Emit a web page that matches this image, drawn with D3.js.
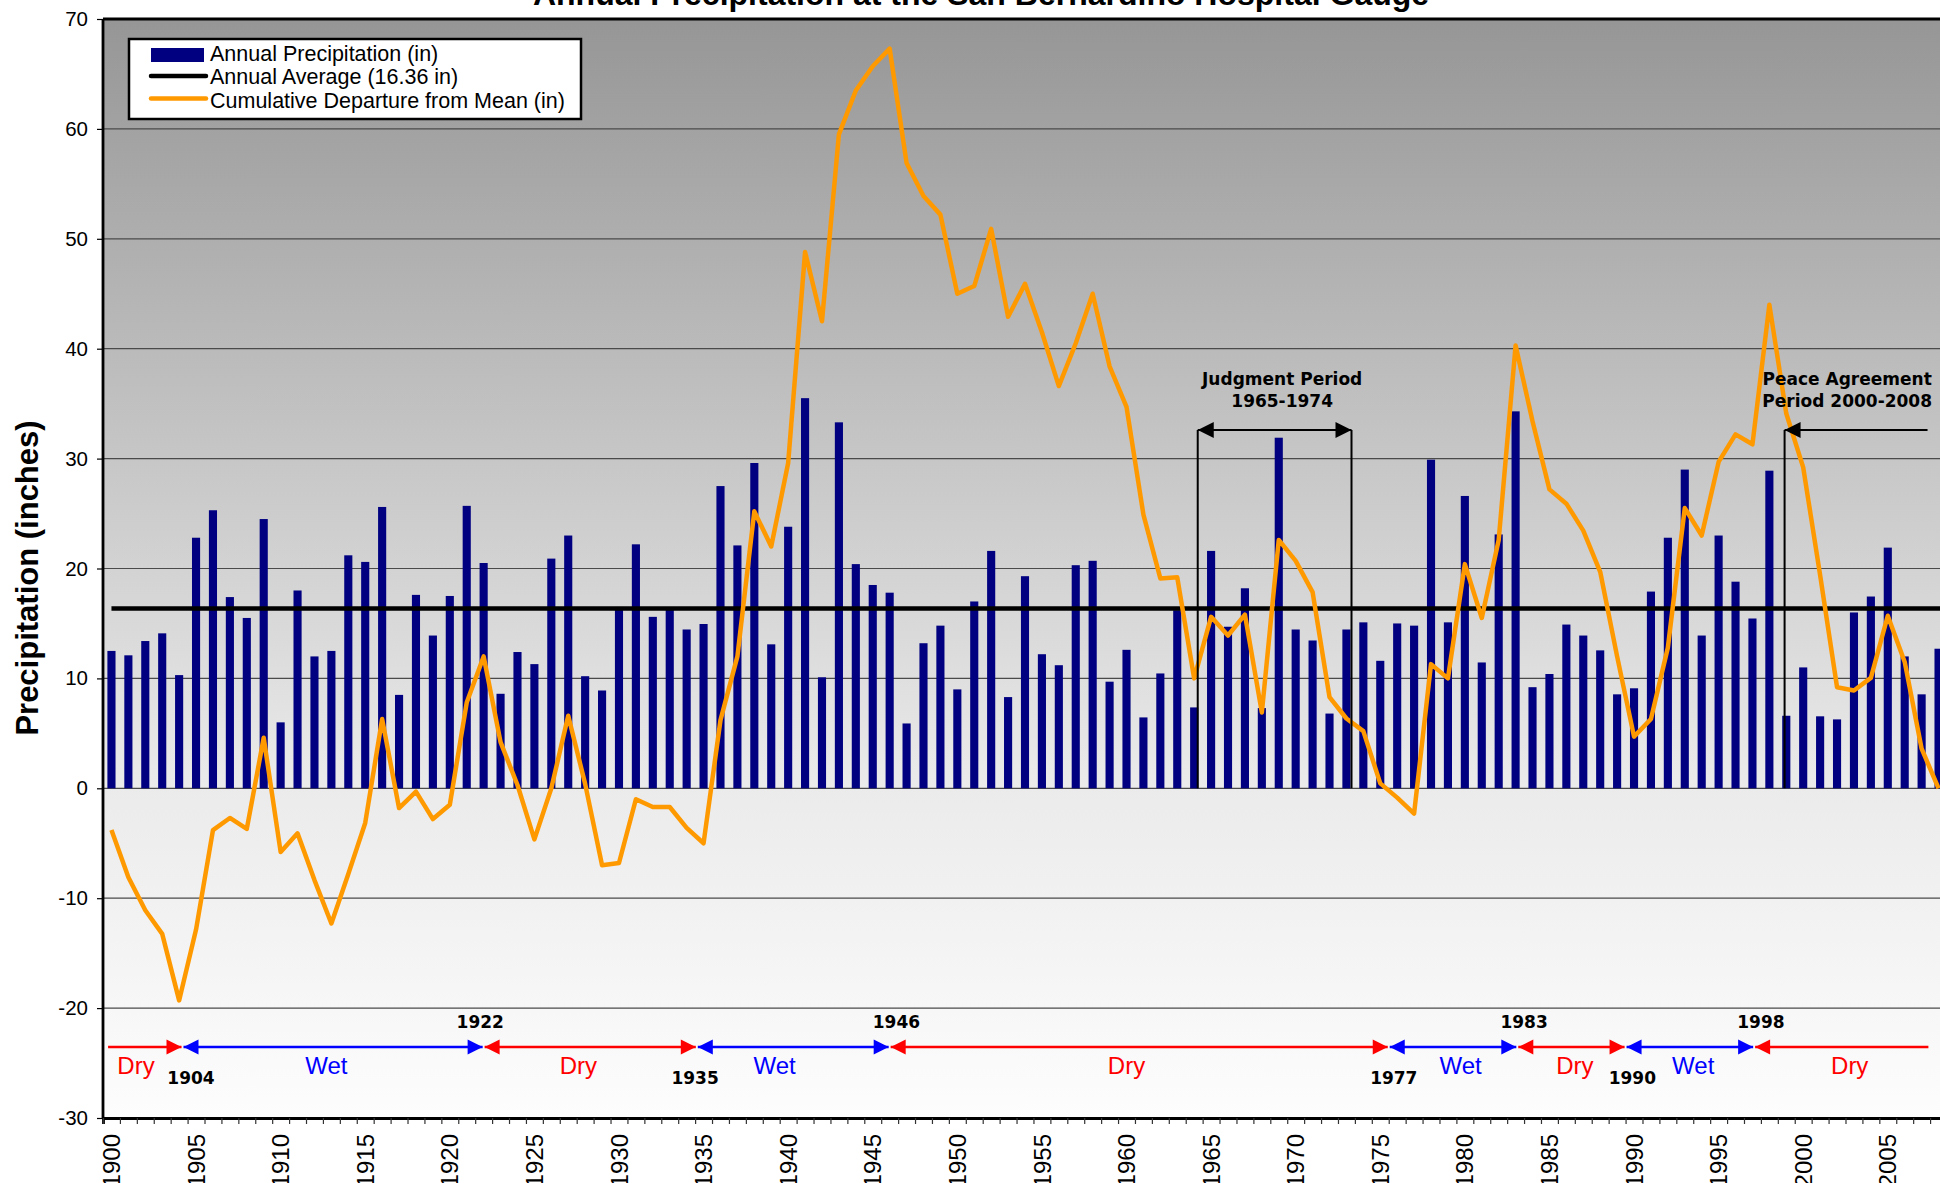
<!DOCTYPE html>
<html>
<head>
<meta charset="utf-8">
<script src="https://cdn.jsdelivr.net/npm/d3@7"></script>
<style>
  body { margin: 0; background: #fff; }
  svg { display: block; font-family: "Liberation Sans", Arial, sans-serif; }
</style>
</head>
<body>
<div id="chart"></div>
<script>
// ---- data ----
var years = d3.range(1900, 2009);

// annual precipitation (in), 1900-2008
var precip = [
  12.5, 12.1, 13.4, 14.1, 10.3, 22.8, 25.3, 17.4, 15.5, 24.5,
  6.0, 18.0, 12.0, 12.5, 21.2, 20.6, 25.6, 8.5, 17.6, 13.9,
  17.5, 25.7, 20.5, 8.6, 12.4, 11.3, 20.9, 23.0, 10.2, 8.9,
  16.5, 22.2, 15.6, 16.4, 14.45, 14.95, 27.5, 22.1, 29.6, 13.1,
  23.8, 35.5, 10.1, 33.3, 20.4, 18.5, 17.8, 5.9, 13.2, 14.8,
  9.0, 17.0, 21.6, 8.3, 19.3, 12.2, 11.2, 20.3, 20.7, 9.7,
  12.6, 6.45, 10.45, 16.2, 7.36, 21.6, 14.7, 18.2, 7.3, 31.9,
  14.45, 13.45, 6.8, 14.45, 15.1, 11.6, 15.0, 14.8, 29.9, 15.1,
  26.6, 11.45, 23.1, 34.3, 9.2, 10.4, 14.9, 13.9, 12.55, 8.55,
  9.1, 17.9, 22.8, 29.0, 13.9, 23.0, 18.8, 15.45, 28.9, 6.6,
  11.0, 6.55, 6.27, 16.0, 17.45, 21.9, 12.0, 8.55, 12.7
];

// cumulative departure from mean (in), 1900-2008
var cumDeparture = [
  -3.8, -8.1, -11.1, -13.25, -19.3, -12.85, -3.8, -2.7, -3.7, 4.6,
  -5.8, -4.1, -8.35, -12.3, -7.8, -3.15, 6.3, -1.8, -0.3, -2.8,
  -1.5, 7.8, 12.0, 4.2, 0.3, -4.65, 0.0, 6.6, 0.4, -7.0,
  -6.8, -1.0, -1.7, -1.7, -3.6, -5.0, 6.2, 12.0, 25.2, 22.0,
  29.6, 48.8, 42.5, 59.5, 63.5, 65.7, 67.3, 56.9, 53.9, 52.2,
  45.0, 45.7, 50.9, 42.9, 45.9, 41.5, 36.6, 40.5, 45.0, 38.4,
  34.7, 24.9, 19.1, 19.2, 10.0, 15.6, 13.9, 15.8, 6.9, 22.6,
  20.7, 17.85, 8.3, 6.35, 5.2, 0.45, -0.85, -2.3, 11.3, 10.0,
  20.4, 15.5, 22.6, 40.3, 33.4, 27.2, 25.9, 23.45, 19.7, 12.0,
  4.7, 6.3, 12.8, 25.5, 23.0, 29.7, 32.2, 31.3, 44.0, 34.1,
  29.2, 19.4, 9.2, 8.9, 10.05, 15.7, 11.5, 3.6, 0.0
];

var annualAverage = 16.36;

var yTicks = [70, 60, 50, 40, 30, 20, 10, 0, -10, -20, -30];
var xLabelYears = d3.range(1900, 2009, 5);

// wet / dry periods along the bottom (break points in years)
var periodBreaks = [1899.8, 1904.2, 1922.0, 1934.6, 1946.0, 1975.5, 1983.1, 1989.5, 1997.1, 2007.4];
var periodNames = ["Dry", "Wet", "Dry", "Wet", "Dry", "Wet", "Dry", "Wet", "Dry"];
var periodLabelAt = [1901.45, 1912.7, 1927.6, 1939.2, 1960.0, 1979.75, 1986.5, 1993.5, 2002.75];
var breakNames = ["1904", "1922", "1935", "1946", "1977", "1983", "1990", "1998"];
var breakLabelAt = [1904.7, 1921.8, 1934.5, 1946.4, 1975.8, 1983.5, 1989.9, 1997.5];

// ---- layout ----
var svgWidth = 1940;
var svgHeight = 1183;
var plot = { left: 103, top: 19, right: 1947, bottom: 1118 };
var lowLabel = [true, false, true, false, true, false, true, false];

var svg = d3.select("#chart")
  .append("svg")
  .attr("width", svgWidth)
  .attr("height", svgHeight);

// scales
var x = d3.scaleBand()
  .domain(years)
  .range([plot.left, plot.right])
  .paddingInner(0.52)
  .paddingOuter(0.26);

var y = d3.scaleLinear()
  .domain([-30, 70])
  .range([plot.bottom, plot.top]);

var xc = function(yr) { return x(yr) + x.bandwidth() / 2; };

// fractional year -> pixel, for the hand placed annotations
var yearPos = d3.scaleLinear()
  .domain([1900, 2008])
  .range([xc(1900), xc(2008)]);

// category edges, for the tick marks between years
var edge = d3.scaleLinear()
  .domain([1900, 2009])
  .range([plot.left, plot.right]);

// background gradient
var defs = svg.append("defs");
var grad = defs.append("linearGradient")
  .attr("id", "bg")
  .attr("x1", 0).attr("y1", 0).attr("x2", 0).attr("y2", 1);
grad.append("stop").attr("offset", "0%").attr("stop-color", "#969696");
grad.append("stop").attr("offset", "70%").attr("stop-color", "#ebebeb");
grad.append("stop").attr("offset", "100%").attr("stop-color", "#fdfdfd");

svg.append("rect")
  .attr("x", plot.left)
  .attr("y", plot.top)
  .attr("width", plot.right - plot.left)
  .attr("height", plot.bottom - plot.top)
  .attr("fill", "url(#bg)");

// gridlines
svg.append("g")
  .selectAll("line")
  .data(yTicks.slice(1, -1))
  .enter()
  .append("line")
  .attr("x1", plot.left)
  .attr("x2", plot.right)
  .attr("y1", d => y(d))
  .attr("y2", d => y(d))
  .attr("stroke", "#4a4a4a")
  .attr("stroke-width", 1.2);

// bars
svg.append("g")
  .selectAll("rect")
  .data(years)
  .enter()
  .append("rect")
  .attr("x", d => x(d))
  .attr("width", x.bandwidth())
  .attr("y", (d, i) => y(Math.max(0, precip[i])))
  .attr("height", (d, i) => Math.abs(y(precip[i]) - y(0)))
  .attr("fill", "#000080");

// annual average line, runs on to the right edge of the plot
svg.append("line")
  .attr("x1", xc(years[0]))
  .attr("x2", plot.right)
  .attr("y1", y(annualAverage))
  .attr("y2", y(annualAverage))
  .attr("stroke", "#000")
  .attr("stroke-width", 4.5);

// cumulative departure line
var cumLine = d3.line()
  .x(d => xc(d))
  .y((d, i) => y(cumDeparture[i]));

svg.append("path")
  .datum(years)
  .attr("d", cumLine)
  .attr("fill", "none")
  .attr("stroke", "#ff9900")
  .attr("stroke-width", 4.5)
  .attr("stroke-linejoin", "round");

// frame
var frame = svg.append("g").attr("stroke", "#000").attr("stroke-width", 2.8);
frame.append("line").attr("x1", plot.left).attr("x2", plot.right).attr("y1", plot.top).attr("y2", plot.top);
frame.append("line").attr("x1", plot.left).attr("x2", plot.left).attr("y1", plot.top).attr("y2", plot.bottom);

// y axis
var yAxis = d3.axisLeft(y)
  .tickValues(yTicks)
  .tickSize(6)
  .tickPadding(9)
  .tickFormat(d => String(d));

var yAxisG = svg.append("g")
  .attr("transform", `translate(${plot.left}, 0)`)
  .call(yAxis);
yAxisG.select(".domain").remove();
yAxisG.selectAll(".tick line").attr("stroke", "#000").attr("stroke-width", 1.2);
yAxisG.selectAll("text")
  .attr("font-size", "20.5px")
  .attr("font-family", "Liberation Sans, Arial, sans-serif")
  .attr("fill", "#000");

// x axis: tick marks between the years
var edgeAxis = d3.axisBottom(edge)
  .tickValues(d3.range(1900, 2010))
  .tickSize(6)
  .tickFormat("");

var edgeG = svg.append("g")
  .attr("transform", `translate(0, ${plot.bottom})`)
  .call(edgeAxis);
edgeG.select(".domain").attr("stroke", "#000").attr("stroke-width", 2.8);
edgeG.selectAll(".tick line").attr("stroke", "#333").attr("stroke-width", 1.2);

// x axis: year labels every 5 years
var xAxis = d3.axisBottom(x)
  .tickValues(xLabelYears)
  .tickSize(0);

var xAxisG = svg.append("g")
  .attr("transform", `translate(0, ${plot.bottom})`)
  .call(xAxis);
xAxisG.select(".domain").remove();
xAxisG.selectAll("text")
  .attr("transform", "rotate(-90)")
  .attr("x", -16)
  .attr("y", 0)
  .attr("dy", "0.36em")
  .attr("text-anchor", "end")
  .attr("font-size", "24px")
  .attr("font-family", "Liberation Sans, Arial, sans-serif")
  .attr("fill", "#000");

// title (mostly above the frame)
svg.append("text")
  .attr("x", 981)
  .attr("y", 5)
  .attr("text-anchor", "middle")
  .attr("font-size", "32px")
  .attr("font-weight", "bold")
  .text("Annual Precipitation at the San Bernardino Hospital Gauge");

// y axis title
svg.append("text")
  .attr("transform", "rotate(-90)")
  .attr("x", -578)
  .attr("y", 38)
  .attr("text-anchor", "middle")
  .attr("font-size", "31px")
  .attr("font-weight", "bold")
  .text("Precipitation (inches)");

// arrowhead helper: tip at (tx, ty), dir = +1 points right, -1 points left
function arrowHead(g, tx, ty, dir, len, half, color) {
  g.append("path")
    .attr("d", `M${tx},${ty} L${tx - dir * len},${ty - half} L${tx - dir * len},${ty + half} Z`)
    .attr("fill", color);
}

// judgment period bracket
var ann = svg.append("g");
var jLeft = yearPos(1964.21), jRight = yearPos(1973.3), annY = 430;
[jLeft, jRight].forEach(function(px) {
  ann.append("line")
    .attr("x1", px).attr("x2", px)
    .attr("y1", annY).attr("y2", y(0))
    .attr("stroke", "#000").attr("stroke-width", 2);
});
ann.append("line")
  .attr("x1", jLeft).attr("x2", jRight)
  .attr("y1", annY).attr("y2", annY)
  .attr("stroke", "#000").attr("stroke-width", 2);
arrowHead(ann, jLeft, annY, -1, 16, 8, "#000");
arrowHead(ann, jRight, annY, 1, 16, 8, "#000");

// peace agreement bracket
var pLeft = yearPos(1998.9), pRight = yearPos(2007.35);
ann.append("line")
  .attr("x1", pLeft).attr("x2", pLeft)
  .attr("y1", annY).attr("y2", y(0))
  .attr("stroke", "#000").attr("stroke-width", 2);
ann.append("line")
  .attr("x1", pLeft).attr("x2", pRight)
  .attr("y1", annY).attr("y2", annY)
  .attr("stroke", "#000").attr("stroke-width", 2);
arrowHead(ann, pLeft, annY, -1, 16, 8, "#000");

var annText = [
  { at: 1969.2, lines: ["Judgment Period", "1965-1974"] },
  { at: 2002.6, lines: ["Peace Agreement", "Period 2000-2008"] }
];
annText.forEach(function(a) {
  a.lines.forEach(function(t, k) {
    ann.append("text")
      .attr("x", yearPos(a.at))
      .attr("y", 385 + k * 22)
      .attr("text-anchor", "middle")
      .attr("font-family", "DejaVu Sans, Verdana, sans-serif")
      .attr("font-weight", "bold")
      .attr("font-size", "17px")
      .attr("fill", "#000")
      .text(t);
  });
});

// wet / dry arrows along the bottom
var per = svg.append("g");
var perY = 1047;
periodNames.forEach(function(name, i) {
  var color = name === "Dry" ? "#ff0000" : "#0000ff";
  var a0 = yearPos(periodBreaks[i]) + (i > 0 ? 1 : 0);
  var a1 = yearPos(periodBreaks[i + 1]) - (i < periodNames.length - 1 ? 1 : 0);
  per.append("line")
    .attr("x1", a0).attr("x2", a1)
    .attr("y1", perY).attr("y2", perY)
    .attr("stroke", color).attr("stroke-width", 2.5);
  if (i > 0) arrowHead(per, a0, perY, -1, 15, 7.5, color);
  if (i < periodNames.length - 1) arrowHead(per, a1, perY, 1, 15, 7.5, color);
  per.append("text")
    .attr("x", yearPos(periodLabelAt[i]))
    .attr("y", 1074)
    .attr("text-anchor", "middle")
    .attr("font-size", "24px")
    .attr("fill", color)
    .text(name);
});

breakNames.forEach(function(t, i) {
  per.append("text")
    .attr("x", yearPos(breakLabelAt[i]))
    .attr("y", lowLabel[i] ? 1084 : 1028)
    .attr("text-anchor", "middle")
    .attr("font-family", "DejaVu Sans, Verdana, sans-serif")
    .attr("font-weight", "bold")
    .attr("font-size", "17px")
    .attr("fill", "#000")
    .text(t);
});

// legend
var legend = svg.append("g");
legend.append("rect")
  .attr("x", 129).attr("y", 39)
  .attr("width", 452).attr("height", 80)
  .attr("fill", "#fff")
  .attr("stroke", "#000")
  .attr("stroke-width", 2.5);

legend.append("rect")
  .attr("x", 151).attr("y", 48)
  .attr("width", 53).attr("height", 14)
  .attr("fill", "#000080");
legend.append("line")
  .attr("x1", 151).attr("x2", 206)
  .attr("y1", 76).attr("y2", 76)
  .attr("stroke", "#000").attr("stroke-width", 4.5).attr("stroke-linecap", "round");
legend.append("line")
  .attr("x1", 151).attr("x2", 206)
  .attr("y1", 98.5).attr("y2", 98.5)
  .attr("stroke", "#ff9900").attr("stroke-width", 4.5).attr("stroke-linecap", "round");

var legendText = [
  "Annual Precipitation (in)",
  "Annual Average (" + annualAverage + " in)",
  "Cumulative Departure from Mean (in)"
];
legend.selectAll("text.leg")
  .data(legendText)
  .enter()
  .append("text")
  .classed("leg", true)
  .attr("x", 210)
  .attr("y", (d, i) => 61 + i * 23.3)
  .attr("font-size", "21.5px")
  .attr("fill", "#000")
  .text(d => d);
</script>
</body>
</html>
